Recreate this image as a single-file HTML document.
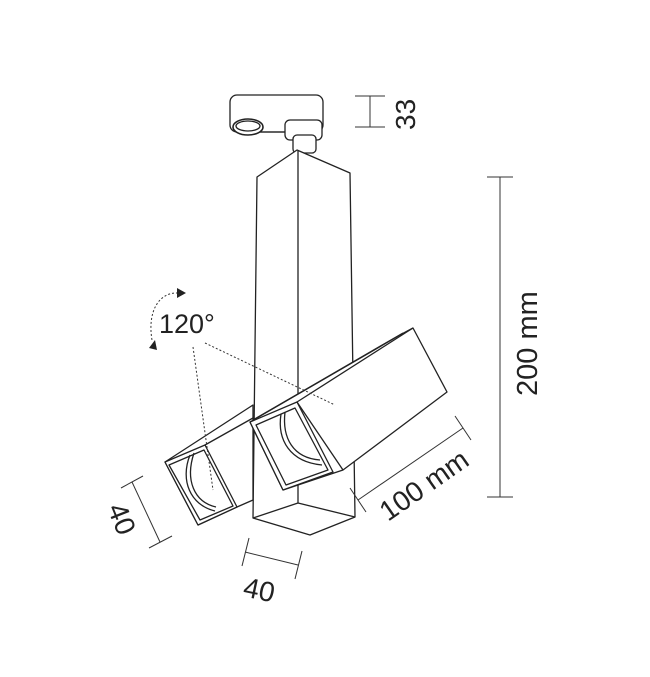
<!DOCTYPE html>
<html><head><meta charset="utf-8"><style>
html,body{margin:0;padding:0;background:#fff;}
svg{display:block;}
text{font-family:"Liberation Sans",sans-serif;fill:#222;}
</style></head><body>
<svg width="650" height="677" viewBox="0 0 650 677" xmlns="http://www.w3.org/2000/svg">
<g fill="none" stroke="#222" stroke-width="1.3" stroke-linejoin="round">
<rect x="230" y="95" width="93" height="37" rx="7" fill="#fff"/>
<line x1="245" y1="132" x2="288" y2="132"/>
<ellipse cx="248" cy="127" rx="15" ry="8" fill="#fff" stroke-width="1.6"/>
<ellipse cx="248" cy="126" rx="12" ry="5"/>
<rect x="285" y="120" width="37" height="20" rx="5" fill="#fff"/>
<rect x="293" y="135" width="23" height="18" rx="4" fill="#fff"/>
<polygon points="297,150 350,173 355,517 310,535 253,518 257,177" fill="#fff"/>
<line x1="298" y1="151" x2="298" y2="503"/>
<polyline points="253,518 298,503 355,517"/>
<polygon points="165,462 253,405 253,500 237,507 198,525" fill="#fff"/>
<line x1="205" y1="445" x2="253" y2="418"/>
<polygon points="165,462 205,445 237,507 198,525" fill="#fff"/>
<polygon points="169,465 204,450 233,506 200,520"/>
<path d="M190,455 C 180,480 190,505 215,511"/>
<path d="M194,453 C 185,480 194,502 216,507"/>
<polygon points="250,422 400,335 413,328 447,392 343,470 283,490" fill="#fff"/>
<line x1="297" y1="402" x2="413" y2="328"/>
<line x1="253" y1="420" x2="403" y2="333"/>
<polygon points="250,422 297,402 333,472 283,490" fill="#fff"/>
<polygon points="256,425 295,408 328,470 286,485"/>
<path d="M281,414 C 277,440 290,462 322,465"/>
<path d="M285,412 C 282,438 293,458 320,460"/>
<line x1="297" y1="402" x2="343" y2="470"/>
</g>
<g stroke="#333" stroke-width="1" stroke-dasharray="2,2" fill="none">
<line x1="193" y1="347" x2="213" y2="490"/>
<line x1="205" y1="343" x2="335" y2="405"/>
<path d="M178,293 C 160,292 147,310 152,340"/>
</g>
<polygon points="186,293 177,288 177,298" fill="#222"/>
<polygon points="149,348 155,340 157,350" fill="#222"/>
<text x="159" y="333" font-size="27">120°</text>
<g stroke="#333" stroke-width="1" fill="none">
<line x1="370" y1="96" x2="370" y2="127"/>
<line x1="355" y1="96" x2="385" y2="96"/>
<line x1="355" y1="127" x2="385" y2="127"/>
<line x1="500" y1="177" x2="500" y2="497"/>
<line x1="487" y1="177" x2="513" y2="177"/>
<line x1="487" y1="497" x2="513" y2="497"/>
<line x1="358" y1="500" x2="463" y2="428"/>
<line x1="350" y1="488" x2="366" y2="512"/>
<line x1="455" y1="416" x2="471" y2="440"/>
<line x1="132" y1="482" x2="160" y2="542"/>
<line x1="121" y1="488" x2="143" y2="476"/>
<line x1="149" y1="548" x2="172" y2="536"/>
<line x1="245" y1="552" x2="298" y2="565"/>
<line x1="249" y1="538" x2="242" y2="566"/>
<line x1="302" y1="551" x2="295" y2="579"/>
</g>
<text font-size="28" transform="translate(415,130) rotate(-90)">33</text>
<text font-size="29" transform="translate(537,396) rotate(-90)">200 mm</text>
<text font-size="28" transform="translate(388,522) rotate(-35)">100 mm</text>
<text font-size="28" transform="translate(107,508) rotate(68)">40</text>
<text font-size="28" transform="translate(242,596) rotate(12)">40</text>
</svg>
</body></html>
